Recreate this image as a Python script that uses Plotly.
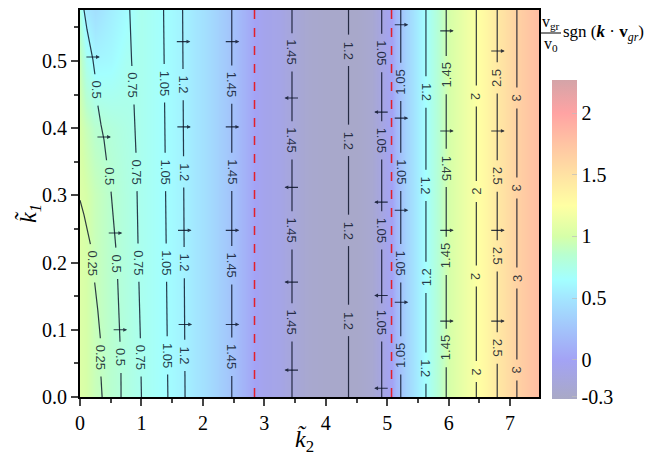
import numpy as np
import plotly.graph_objects as go

# ---------------- data ----------------
# background colour field  v_gr/v0 * sgn(k . v_gr)
hm_k2 = [0, 0.1, 0.25, 0.5, 0.75, 1.0, 1.25, 1.5, 1.75, 2.0, 2.25, 2.5, 2.7, 2.84, 3.0,
         3.25, 3.5, 3.75, 4.0, 4.25, 4.5, 4.75, 4.95, 5.07, 5.15, 5.3, 5.45, 5.6, 5.8, 6.0,
         6.2, 6.4, 6.6, 6.8, 7.0, 7.2, 7.5]
hm_k1 = [0.0, 0.3, 0.4, 0.5, 0.576]
row_bottom = [1.04, 1.0, 0.93, 0.85, 0.78, 0.72, 0.67, 0.62, 0.55, 0.46, 0.35, 0.22, 0.1, 0.0,
              -0.06, -0.1, -0.2, -0.26, -0.28, -0.29, -0.29, -0.24, -0.1, 0.0, 0.15, 0.35, 0.5,
              0.63, 0.8, 1.0, 1.1, 1.2, 1.32, 1.45, 1.57, 1.68, 1.82]
left_k1_04 = [1.0, 0.93, 0.85, 0.8, 0.76]
left_k1_05 = [0.92, 0.72, 0.6, 0.62, 0.7]
left_k1_top = [0.75, 0.52, 0.45, 0.55, 0.63]

# colour scale
cs_vals = [-0.32, 0.0, 0.25, 0.5, 0.65, 0.85, 1.0, 1.25, 1.5, 1.75, 2.0, 2.27]
cs_cols = ['#a9a9c6', '#a3a3f5', '#a3c4fb', '#a3e6ff', '#a3ffff', '#b8ffd0', '#d6ffa8',
           '#ffffa3', '#ffe2a3', '#ffc4a3', '#ffa3a3', '#d4a4a8']
cbar_ticks = [-0.3, 0, 0.5, 1, 1.5, 2]

# contour lines: level text, k1 points, k2 points, label k1 positions, label angles
contour_levels = ["0.25", "0.5", "0.75", "1.05", "1.2", "1.45", "1.45", "1.2", "1.05",
                  "1.05", "1.2", "1.45", "2", "2.5", "3"]
contour_k1 = [
    [0.0, 0.032, 0.089, 0.129, 0.169, 0.223, 0.245, 0.271, 0.293],
    [0.0, 0.032, 0.085, 0.129, 0.163, 0.219, 0.263, 0.296, 0.36, 0.383, 0.405, 0.432,
     0.479, 0.502, 0.524, 0.547, 0.576],
    [0.0, 0.1, 0.2, 0.3, 0.4, 0.5, 0.576],
    [0.0, 0.576], [0.0, 0.576], [0.0, 0.576], [0.0, 0.576], [0.0, 0.576], [0.0, 0.576],
    [0.0, 0.576], [0.0, 0.576], [0.0, 0.576], [0.0, 0.576], [0.0, 0.576], [0.0, 0.576],
]
contour_k2 = [
    [0.36, 0.34, 0.33, 0.29, 0.24, 0.18, 0.13, 0.065, 0.0],
    [0.668, 0.668, 0.65, 0.635, 0.62, 0.586, 0.55, 0.52, 0.42, 0.39, 0.342, 0.293,
     0.244, 0.21, 0.163, 0.114, 0.065],
    [1.0, 0.98, 0.95, 0.93, 0.9, 0.84, 0.81],
    [1.43, 1.36], [1.71, 1.67], [2.47, 2.47], [3.45, 3.45], [4.37, 4.37], [4.91, 4.91],
    [5.22, 5.22], [5.63, 5.63], [5.96, 5.96], [6.45, 6.45], [6.79, 6.79], [7.11, 7.11],
]
label_k1 = [
    [0.059, 0.199],
    [0.059, 0.199, 0.329, 0.457],
    [0.059, 0.2, 0.335, 0.464],
    [0.062, 0.2, 0.335, 0.467],
    [0.062, 0.2, 0.335, 0.465],
    [0.06, 0.196, 0.335, 0.465],
    [0.111, 0.248, 0.382, 0.513],
    [0.114, 0.248, 0.382, 0.516],
    [0.111, 0.248, 0.382, 0.512],
    [0.062, 0.199, 0.335, 0.469],
    [0.043, 0.178, 0.315, 0.454],
    [0.073, 0.21, 0.341, 0.479],
    [0.038, 0.18, 0.306, 0.448],
    [0.073, 0.21, 0.329, 0.475],
    [0.04, 0.177, 0.311, 0.445],
]
label_angle = [
    [90, 90], [90, 90, 90, 90], [90, 90, 90, 90], [90, 90, 90, 90], [90, 90, 90, 90],
    [90, 90, 90, 90], [90, 90, 90, 90], [90, 90, 90, 90], [90, 90, 90, 90],
    [-90, 90, 90, -90], [90, -90, 90, 90], [-90, -90, 90, -90], [90, 90, -90, 90],
    [90, 90, 90, -90], [90, -90, 90, 90],
]

# velocity arrows: contour index, k1, direction (+1 right, -1 left)
arrow_line = [1, 1, 1, 1, 4, 4, 4, 4, 5, 5, 5, 5, 6, 6, 6, 6, 8, 8, 8, 8,
              9, 9, 9, 9, 11, 11, 11, 11, 13, 13, 13, 13]
arrow_k1 = [0.1, 0.244, 0.387, 0.506, 0.108, 0.248, 0.402, 0.529, 0.108, 0.248, 0.402, 0.529,
            0.04, 0.171, 0.312, 0.445, 0.013, 0.151, 0.29, 0.424,
            0.141, 0.278, 0.415, 0.554, 0.113, 0.248, 0.396, 0.545, 0.113, 0.248, 0.396, 0.515]
arrow_dir = [1, 1, 1, 1, 1, 1, 1, 1, 1, 1, 1, 1, -1, -1, -1, -1, -1, -1, -1, -1,
             1, 1, 1, 1, 1, 1, 1, 1, 1, 1, 1, 1]

red_lines_k2 = [2.84, 5.07]

x_ticks = [0, 1, 2, 3, 4, 5, 6, 7]
y_ticks = [0.0, 0.1, 0.2, 0.3, 0.4, 0.5]

# ---------------- geometry (page pixels) ----------------
OFF = 8                      # default body margin of the html page
W, H = 654, 452
L, R, T, B = 80, 539, 10, 397
X_MAX, Y_MAX = 7.47, 0.576
k1_per_px = Y_MAX / (B - T)
k2_per_px = X_MAX / (R - L)
LINE_COL = 'rgba(8,16,36,0.82)'
SERIF = "Liberation Serif, 'Times New Roman', Times, serif"
SANS = "Liberation Sans, Arial, sans-serif"


def px(xp, yp):
    return (xp - L) / (R - L), (B - yp) / (B - T)


def text_px(s):
    return sum(3.4 if c == '.' else 7.0 for c in s)


def paper_note(xp, yp, text, font, xanchor='center', angle=0):
    x, y = px(xp, yp)
    return dict(x=x, y=y, xref='paper', yref='paper', showarrow=False, text=text,
                xanchor=xanchor, yanchor='middle', textangle=angle, font=font)


# ---------------- figure ----------------
z = [row_bottom, row_bottom,
     left_k1_04 + row_bottom[5:],
     left_k1_05 + row_bottom[5:],
     left_k1_top + row_bottom[5:]]
cmin, cmax = cs_vals[0], cs_vals[-1]
colorscale = [[(v - cmin) / (cmax - cmin), c] for v, c in zip(cs_vals, cs_cols)]

fig = go.Figure()
fig.add_trace(go.Heatmap(
    x=hm_k2, y=hm_k1, z=z, zmin=cmin, zmax=cmax, zsmooth='best',
    colorscale=colorscale, hoverinfo='skip',
    colorbar=dict(
        x=(552 - L) / (R - L), xanchor='left', xpad=0,
        y=px(0, 399)[1], yanchor='bottom', len=(399 - 80) / (B - T), lenmode='fraction',
        thickness=25, outlinewidth=0, ypad=0,
        tickvals=cbar_ticks, ticktext=[str(t) for t in cbar_ticks],
        ticks='inside', ticklen=5, tickcolor='rgba(190,190,190,0.7)',
        tickfont=dict(family=SERIF, size=20, color='black'),
    ),
))

# contour lines with gaps for labels
xs, ys = [], []
annotations = []
for lev, k1s, k2s, lks, angs in zip(contour_levels, contour_k1, contour_k2, label_k1, label_angle):
    half = (text_px(lev) + 14) / 2 * k1_per_px
    cur = k1s[0]
    segs = []
    for lk in sorted(lks):
        segs.append((cur, lk - half))
        cur = lk + half
    segs.append((cur, k1s[-1]))
    for s, e in segs:
        yy = [s] + [v for v in k1s if s < v < e] + [e]
        xx = np.interp(yy, k1s, k2s)
        xs += list(xx) + [None]
        ys += yy + [None]
    for lk, ang in zip(lks, angs):
        annotations.append(dict(
            x=float(np.interp(lk, k1s, k2s)), y=lk, xref='x', yref='y', text=lev,
            showarrow=False, textangle=ang, xanchor='center', yanchor='middle',
            font=dict(family=SANS, size=13, color=LINE_COL)))

fig.add_trace(go.Scatter(x=xs, y=ys, mode='lines', line=dict(color=LINE_COL, width=1.2),
                         hoverinfo='skip', showlegend=False))

# arrows
half_len = 7.5 * k2_per_px
for li, k1v, d in zip(arrow_line, arrow_k1, arrow_dir):
    xc = float(np.interp(k1v, contour_k1[li], contour_k2[li]))
    annotations.append(dict(
        x=xc + d * half_len, y=k1v, ax=xc - d * half_len, ay=k1v,
        xref='x', yref='y', axref='x', ayref='y', text='', showarrow=True,
        arrowhead=2, arrowsize=0.7, arrowwidth=1.1, arrowcolor=LINE_COL, standoff=0))

# red dashed lines
shapes = []
for xv in red_lines_k2:
    shapes.append(dict(type='line', xref='x', yref='y', x0=xv, x1=xv, y0=0, y1=Y_MAX,
                       line=dict(color='#e3202a', width=1.5, dash='dash')))

# axis titles
big = dict(family=SERIF, size=24, color='black')
annotations.append(paper_note(304, 441, '<i>k\u0303</i><sub>2</sub>', big))
annotations.append(paper_note(29, 214, '<i>k\u0303</i><sub><i>1</i></sub>', big, angle=-90))

# colour-bar title  v_gr / v_0 sgn(k . v_gr)
tf = dict(family=SERIF, size=16, color='black')
annotations.append(paper_note(551, 22, 'v<sub>gr</sub>', tf))
annotations.append(paper_note(551, 45, 'v<sub>0</sub>', tf))
annotations.append(paper_note(561, 33, 'sgn (<b><i>k</i></b> \u00b7 <b>v</b><sub><i>gr</i></sub>)',
                              dict(family=SERIF, size=17, color='black'), xanchor='left'))
f0x, f0y = px(541, 33)
f1x, _ = px(561, 33)
shapes.append(dict(type='line', xref='paper', yref='paper', x0=f0x, x1=f1x, y0=f0y, y1=f0y,
                   line=dict(color='black', width=1)))

fig.update_layout(
    width=W, height=H,
    margin=dict(l=L - OFF, r=W - (R - OFF), t=T - OFF, b=H - (B - OFF), pad=0),
    paper_bgcolor='white', plot_bgcolor='white', showlegend=False,
    annotations=annotations, shapes=shapes,
    xaxis=dict(range=[0, X_MAX], tickvals=x_ticks, ticks='outside', ticklen=7, tickwidth=2,
               showline=True, linewidth=2, linecolor='black', mirror=True, showgrid=False,
               zeroline=False, automargin=False,
               tickfont=dict(family=SERIF, size=20, color='black'),
               minor=dict(dtick=0.5, ticks='outside', ticklen=4, tickwidth=2, tick0=0)),
    yaxis=dict(range=[0, Y_MAX], tickvals=y_ticks, tickformat='.1f', ticks='outside',
               ticklen=7, tickwidth=2, showline=True, linewidth=2, linecolor='black',
               mirror=True, showgrid=False, zeroline=False, automargin=False,
               tickfont=dict(family=SERIF, size=20, color='black'),
               minor=dict(dtick=0.05, ticks='outside', ticklen=4, tickwidth=2, tick0=0)),
)

fig.write_html("out.html")
